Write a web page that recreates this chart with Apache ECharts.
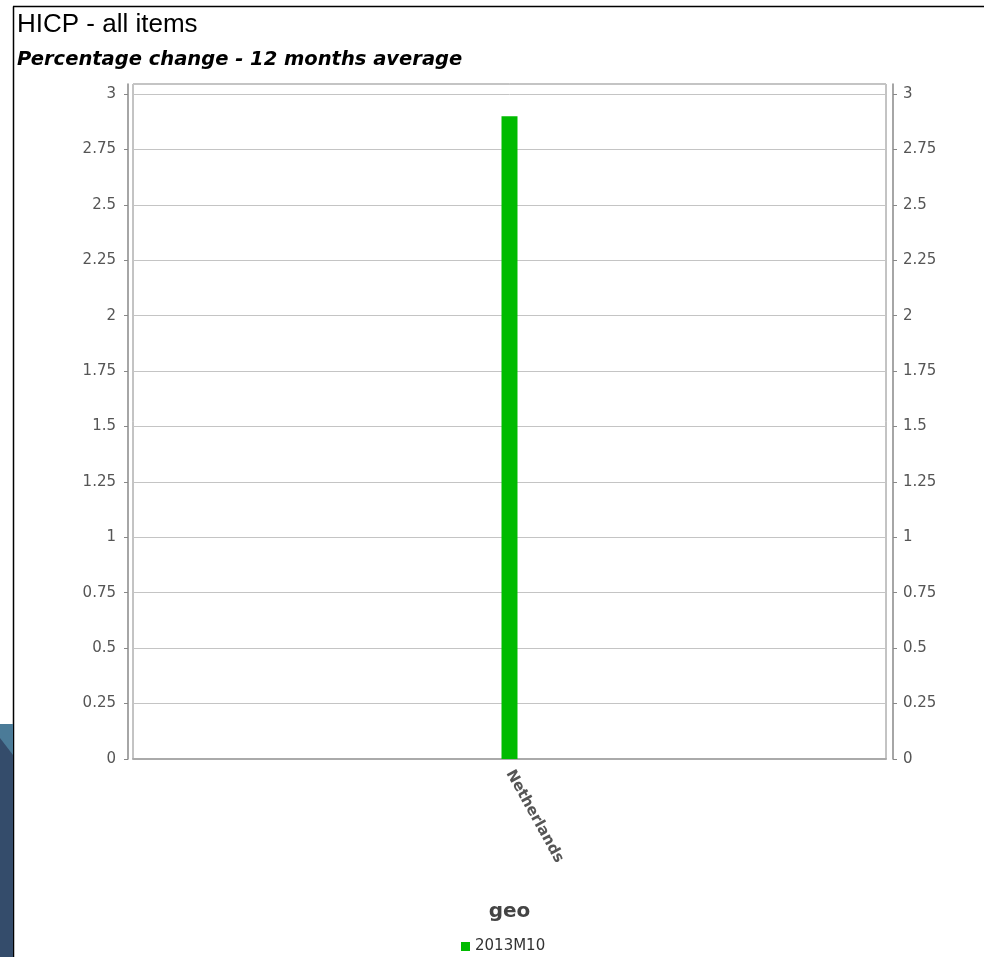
<!DOCTYPE html>
<html>
<head>
<meta charset="utf-8">
<script src="https://cdn.jsdelivr.net/npm/echarts@6/dist/echarts.min.js"></script>
<style>
  html, body { margin: 0; padding: 0; background: #fff; }
  #main { width: 984px; height: 957px; }
</style>
</head>
<body>
<div id="main"></div>
<script>
  var countries = ['Netherlands'];
  var values2013M10 = [2.9];
  var seriesName = '2013M10';
  var yTicks = [0, 0.25, 0.5, 0.75, 1, 1.25, 1.5, 1.75, 2, 2.25, 2.5, 2.75, 3];

  var myChart = echarts.init(document.getElementById('main'));

  var yLabel = {
    color: '#555',
    fontSize: 15,
    fontFamily: 'DejaVu Sans',
    showMaxLabel: false,
    formatter: function (v) { return yTicks.indexOf(v) >= 0 ? String(v) : ''; }
  };

  var option = {
    backgroundColor: '#fff',
    animation: false,
    title: [
      {
        text: 'HICP - all items',
        left: 12, top: 7,
        textStyle: { fontFamily: 'Liberation Sans', fontSize: 26, fontWeight: 'normal', color: '#000' }
      },
      {
        text: 'Percentage change - 12 months average',
        left: 12, top: 45,
        textStyle: { fontFamily: 'DejaVu Sans', fontSize: 19.5, fontWeight: 'bold', fontStyle: 'italic', color: '#000' }
      }
    ],
    graphic: [
      // page frame behind the chart
      { type: 'line', shape: { x1: 13.5, y1: 6.5, x2: 13.5, y2: 957 }, style: { stroke: '#000', lineWidth: 1.5 } },
      { type: 'line', shape: { x1: 13, y1: 6.5, x2: 984, y2: 6.5 }, style: { stroke: '#000', lineWidth: 1.5 } },
      { type: 'rect', shape: { x: 0, y: 724, width: 13, height: 233 }, style: { fill: '#344c6b' } },
      { type: 'polygon', shape: { points: [[0, 724], [13, 724], [13, 755], [0, 738]] }, style: { fill: '#4b7b98' } }
    ],
    legend: {
      data: [seriesName],
      top: 934,
      left: 456,
      itemWidth: 9,
      itemHeight: 9,
      icon: 'rect',
      textStyle: { fontFamily: 'DejaVu Sans', fontSize: 15, color: '#333' }
    },
    grid: {
      left: 133, right: 98, top: 84, bottom: 198,
      show: true,
      borderColor: '#888',
      borderWidth: 1,
      containLabel: false
    },
    xAxis: {
      type: 'category',
      data: countries,
      offset: 6,
      axisLine: { lineStyle: { color: '#aaa', width: 2 } },
      axisTick: { alignWithLabel: true, length: 3, lineStyle: { color: '#888' } },
      axisLabel: {
        rotate: -61,
        color: '#555',
        fontSize: 15,
        fontWeight: 'bold',
        fontFamily: 'DejaVu Sans',
        margin: 6
      },
      name: 'geo',
      nameLocation: 'middle',
      nameGap: 137,
      nameTextStyle: { fontFamily: 'DejaVu Sans', fontSize: 20, fontWeight: 'bold', color: '#444' }
    },
    yAxis: [
      {
        type: 'value',
        min: 0, max: 3.045, interval: 0.25,
        position: 'left',
        offset: 5,
        axisLine: { show: true, lineStyle: { color: '#888', width: 1.5 } },
        axisTick: { show: true, length: 4, lineStyle: { color: '#888' } },
        axisLabel: Object.assign({ margin: 12 }, yLabel),
        splitLine: { show: true, lineStyle: { color: '#c4c4c4', width: 1 } }
      },
      {
        type: 'value',
        min: 0, max: 3.045, interval: 0.25,
        position: 'right',
        offset: 7,
        axisLine: { show: true, lineStyle: { color: '#888', width: 1.5 } },
        axisTick: { show: true, length: 4, lineStyle: { color: '#888' } },
        axisLabel: Object.assign({ margin: 10 }, yLabel),
        splitLine: { show: false }
      }
    ],
    series: [
      {
        name: seriesName,
        type: 'bar',
        data: values2013M10,
        barWidth: 16,
        itemStyle: { color: '#00bb00' }
      }
    ]
  };

  myChart.setOption(option);
</script>
</body>
</html>
